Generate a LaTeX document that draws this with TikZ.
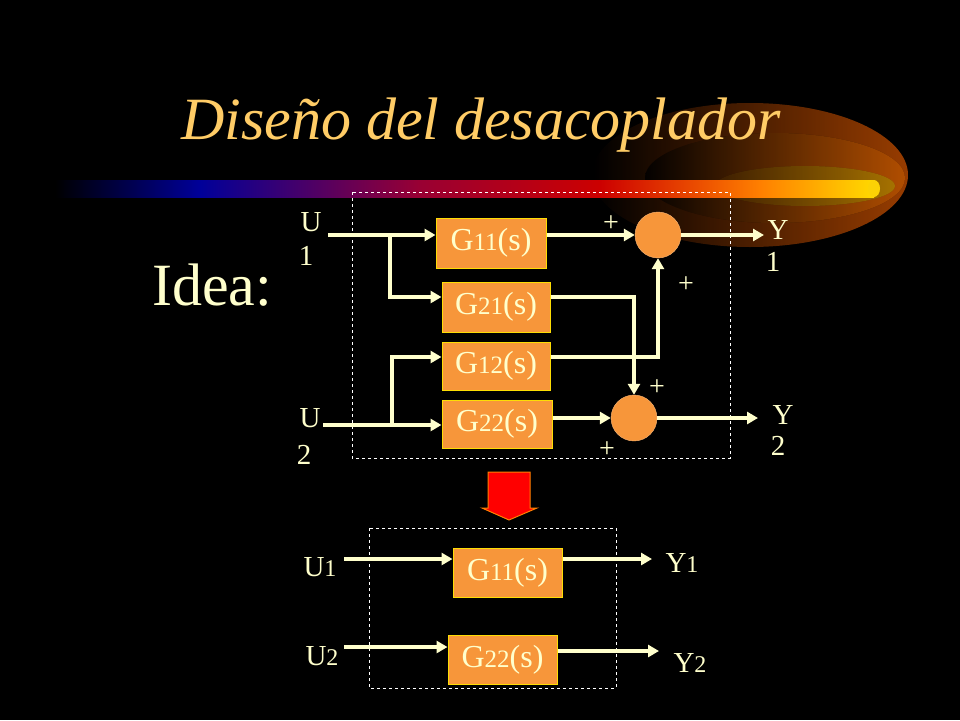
\documentclass[tikz,border=0pt]{standalone}
\usepackage{fontspec}
\setmainfont{Liberation Serif}
\usetikzlibrary{arrows.meta,shadings}
\definecolor{cream}{HTML}{FFFFCC}
\definecolor{boxor}{HTML}{F7963A}
\definecolor{titlec}{HTML}{FFCC66}
\begin{document}
\begin{tikzpicture}[x=1pt,y=-1pt,
  gbox/.style={draw=yellow!80!orange,fill=boxor,line width=1pt,inner sep=0pt,text=cream,font=\fontsize{32}{34}\selectfont},
  sumc/.style={circle,fill=boxor,draw=boxor!70!white,minimum size=46pt,inner sep=0pt},
  sig/.style={draw=cream,line width=3.5pt,-{Triangle[length=11pt,width=12pt]}},
  lab/.style={text=cream,font=\fontsize{29}{30}\selectfont,inner sep=0pt},
  pl/.style={text=cream,font=\fontsize{28}{30}\selectfont,inner sep=0pt},
  sm/.style={},
  dbox/.style={draw=white,dashed,line width=0.8pt}]
\fill[black] (0,0) rectangle (960,720);
\useasboundingbox (0,0) rectangle (960,720);
% comet glow
\begin{scope}
\clip (590,90) rectangle (910,260);
\fill[left color=black,right color=orange!80!red!70!black,opacity=0.85] (750,175) ellipse[x radius=158,y radius=72];
\fill[left color=black,right color=orange!90!red,opacity=0.6] (775,178) ellipse[x radius=130,y radius=45];
\fill[left color=orange!40!black,right color=yellow!60!orange,opacity=0.45] (805,186) ellipse[x radius=90,y radius=20];
\end{scope}
\shade[left color=black,right color=blue!60!black] (55,180) rectangle (200,197);
\shade[left color=blue!60!black,right color=purple!80!black] (200,180) rectangle (420,197);
\shade[left color=purple!80!black,right color=red!80!black] (420,180) rectangle (600,197);
\shade[left color=red!80!black,right color=orange] (600,180) rectangle (760,197);
\shade[left color=orange,right color=yellow!70!orange] (760,180) rectangle (874,197);
\fill[yellow!70!orange] (874,188.5) ellipse[x radius=6,y radius=8.5];
% title
\node[text=titlec,font=\fontsize{60}{66}\selectfont\itshape] (title) at (481,125) {Diseño del desacoplador};
\node[text=cream,font=\fontsize{60}{66}\selectfont] (idea) at (212,285) {Idea:};
% top diagram
\draw[dbox] (352,192) rectangle (730,458);
\node[gbox,minimum width=110pt,minimum height=50pt] (g11) at (491,243) {G{\fontsize{25}{26}\selectfont 11}(s)};
\node[gbox,minimum width=108pt,minimum height=50pt] (g21) at (496,307) {G{\fontsize{25}{26}\selectfont 21}(s)};
\node[gbox,minimum width=108pt,minimum height=48pt] (g12) at (496,366) {G{\fontsize{25}{26}\selectfont 12}(s)};
\node[gbox,minimum width=110pt,minimum height=48pt] (g22) at (497,424) {G{\fontsize{25}{26}\selectfont 22}(s)};
\node[sumc] (s1) at (658,235) {};
\node[sumc] (s2) at (634,418) {};
\node[lab] (u1a) at (311,222) {U};
\node[lab] (u1b) at (306,256) {1};
\node[lab] (u2a) at (310,418) {U};
\node[lab] (u2b) at (304,455) {2};
\node[lab] (y1a) at (778,230) {Y};
\node[lab] (y1b) at (773,262) {1};
\node[lab] (y2a) at (783,415) {Y};
\node[lab] (y2b) at (778,446) {2};
\coordinate (u1s) at (328,235);
\coordinate (u2s) at (323,425);
\coordinate (b1) at (390,235);
\coordinate (b2) at (392,425);
\coordinate (y1e) at (764,235);
\coordinate (y2e) at (758,418);
\draw[sig] (u1s) -- (g11.west|-u1s);
\draw[sig] (b1) |- (g21.west|-0,297);
\draw[sig] (u2s) -- (g22.west|-u2s);
\draw[sig] (b2) |- (g12.west|-0,357);
\draw[sig] (g11.east|-s1.west) -- (s1.west);
\draw[sig] (g21.east|-0,297) -| (s2.north);
\draw[sig] (g12.east|-0,357) -| (s1.south);
\draw[sig] (g22.east|-s2.west) -- (s2.west);
\draw[sig] (s1.east) -- (y1e);
\draw[sig] (s2.east) -- (y2e);
\node[pl] (p1) at (611,224) {+};
\node[pl] (p2) at (686,285) {+};
\node[pl] (p3) at (657,388) {+};
\node[pl] (p4) at (607,450) {+};
% red arrow
\draw[draw=orange,fill=red,line width=1pt] (488,472) -- (530,472) -- (530,508) -- (537,508) -- (509,520) -- (482,508) -- (488,508) -- cycle;
% bottom diagram
\draw[dbox] (369,528) rectangle (616,688);
\node[gbox,minimum width=109pt,minimum height=49pt] (h11) at (507.5,572.5) {G{\fontsize{25}{26}\selectfont 11}(s)};
\node[gbox,minimum width=109pt,minimum height=49pt] (h22) at (502.5,659.5) {G{\fontsize{25}{26}\selectfont 22}(s)};
\node[lab] (v1) at (320,567) {U{\fontsize{24}{26}\selectfont 1}};
\node[lab] (v2) at (322,656) {U{\fontsize{24}{26}\selectfont 2}};
\node[lab] (w1) at (682,563) {Y{\fontsize{24}{26}\selectfont 1}};
\node[lab] (w2) at (690,663) {Y{\fontsize{24}{26}\selectfont 2}};
\coordinate (v1s) at (344,559);
\coordinate (v2s) at (344,647);
\coordinate (w1e) at (652,559);
\coordinate (w2e) at (659,651);
\draw[sig] (v1s) -- (h11.west|-v1s);
\draw[sig] (h11.east|-w1e) -- (w1e);
\draw[sig] (v2s) -- (h22.west|-v2s);
\draw[sig] (h22.east|-w2e) -- (w2e);
\end{tikzpicture}
\end{document}
